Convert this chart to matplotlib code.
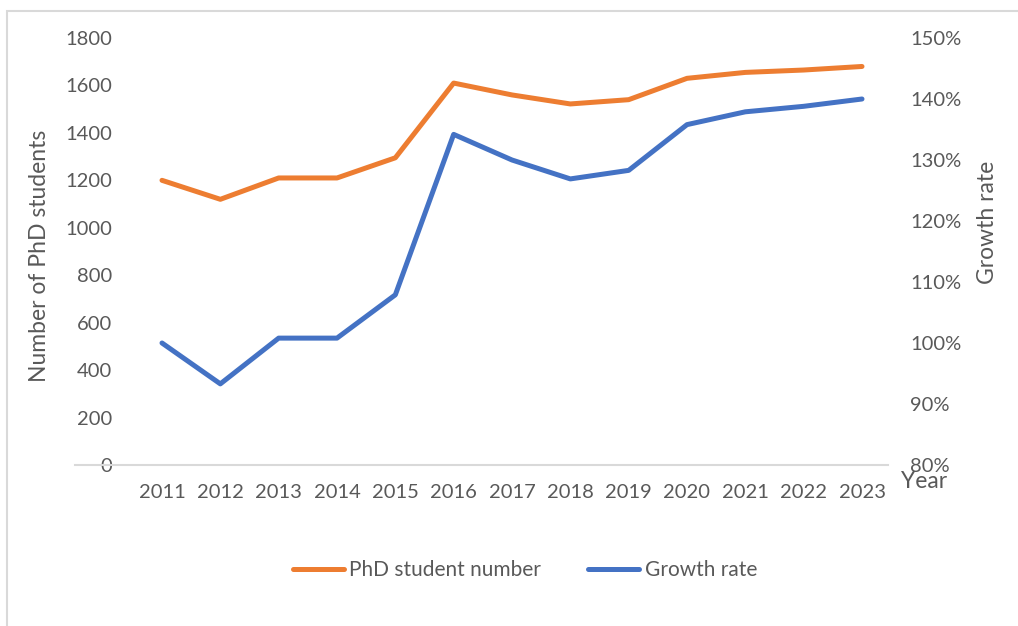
import matplotlib.pyplot as plt
from matplotlib.patches import Rectangle
from matplotlib.ticker import FuncFormatter

years = [2011, 2012, 2013, 2014, 2015, 2016, 2017, 2018, 2019, 2020, 2021, 2022, 2023]
phd_students = [1200, 1120, 1210, 1210, 1295, 1610, 1560, 1522, 1540, 1630, 1655, 1665, 1680]
growth_rate = [100.0, 93.3, 100.8, 100.8, 107.9, 134.2, 130.0, 126.9, 128.3, 135.8, 137.9, 138.8, 140.0]

orange = '#ED7D31'
blue = '#4472C4'
grey = '#595959'

plt.rcParams['font.family'] = ['Lato', 'DejaVu Sans']

W, H = 1018, 626
fig = plt.figure(figsize=(W / 100, H / 100), dpi=100)

# light frame around the chart (cut off at right/bottom like the screenshot)
fig.patches.append(Rectangle((7 / W, -0.1), 1.2, 1 - 11 / H + 0.1,
                             transform=fig.transFigure, fill=False,
                             edgecolor='#d9d9d9', linewidth=1.5))

ax = fig.add_axes([75 / W, 1 - 465 / H, (888 - 75) / W, (465 - 38) / H])
ax2 = ax.twinx()

step = (862 - 162) / 12
ax.set_xlim(2011 - (162 - 75) / step, 2023 + (888 - 862) / step)
ax.set_ylim(0, 1800)
ax2.set_ylim(80, 150)

l1, = ax.plot(years, phd_students, color=orange, linewidth=3.6,
              solid_capstyle='round', solid_joinstyle='round', label='PhD student number')
l2, = ax2.plot(years, growth_rate, color=blue, linewidth=3.6,
               solid_capstyle='round', solid_joinstyle='round', label='Growth rate')

for a in (ax, ax2):
    for s in a.spines.values():
        s.set_visible(False)
ax.spines['bottom'].set_visible(True)
ax.spines['bottom'].set_color('#d9d9d9')
ax.spines['bottom'].set_linewidth(1.5)

ax.set_xticks(years)
ax.set_yticks(range(0, 1801, 200))
ax2.set_yticks(range(80, 151, 10))
ax2.yaxis.set_major_formatter(FuncFormatter(lambda v, p: f'{v:.0f}%'))

ax.tick_params(axis='x', length=0, pad=14, labelsize=14.5, labelcolor=grey)
ax.tick_params(axis='y', length=0, pad=-27, labelsize=14.5, labelcolor=grey)
ax2.tick_params(axis='y', length=0, pad=16, labelsize=14.5, labelcolor=grey)

fig.text(40 / W, 1 - 256 / H, 'Number of PhD students', rotation=90,
         ha='center', va='center', fontsize=16.5, color=grey)
fig.text(987 / W, 1 - 222 / H, 'Growth rate', rotation=90,
         ha='center', va='center', fontsize=16.5, color=grey)
fig.text(924 / W, 1 - 482 / H, 'Year', ha='center', va='center',
         fontsize=16.5, color=grey)

fig.legend(handles=[l1, l2], loc='center', bbox_to_anchor=(525 / W, 1 - 570 / H),
           ncol=2, frameon=False, fontsize=15, labelcolor=grey,
           handlelength=2.45, handletextpad=0.25, columnspacing=2.26)

fig.savefig('out.png', dpi=100)
